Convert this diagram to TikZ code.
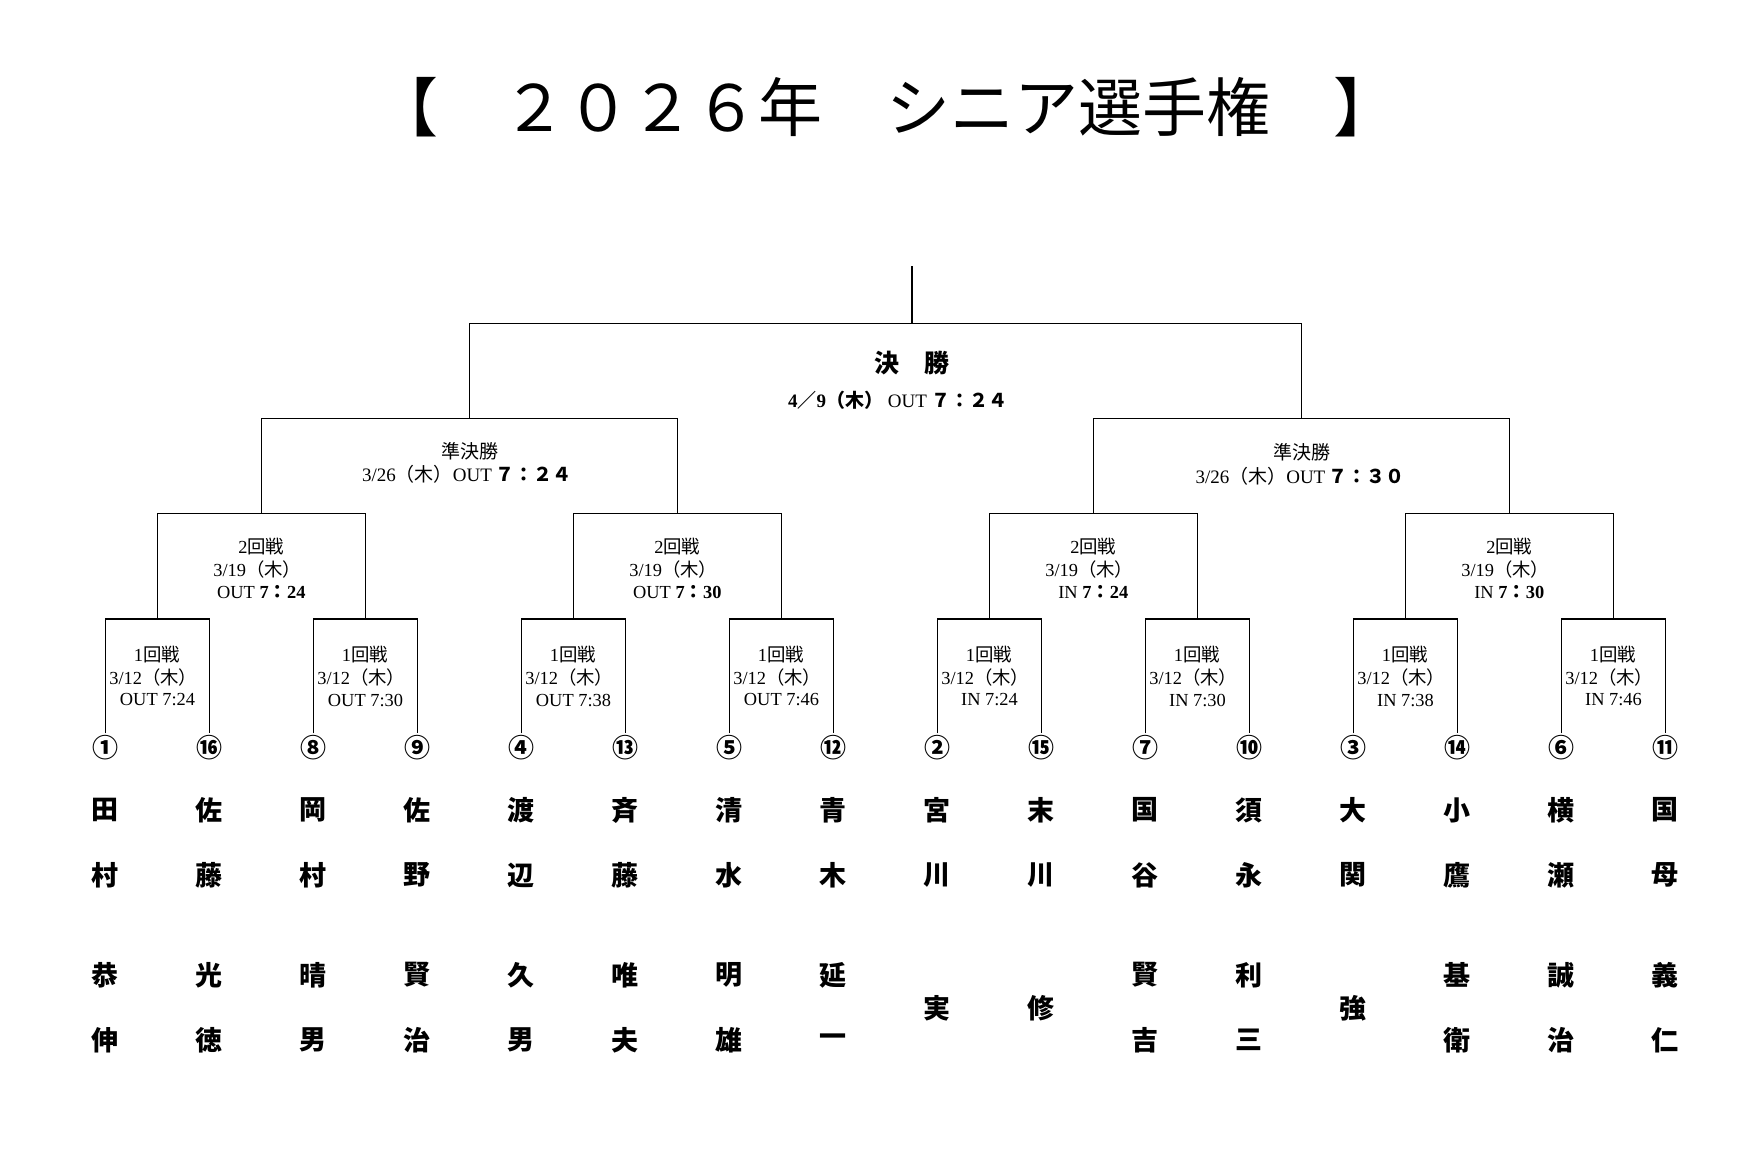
\documentclass[tikz,border=0pt]{standalone}
\usepackage{fontspec}
\setmainfont{Liberation Serif}
\newfontfamily\jp{Noto Sans CJK JP}
\newcommand\jpt[1]{{\jp #1}}
\begin{document}
\begin{tikzpicture}[x=0.5pt,y=-0.5pt,line width=0.8pt,
  ttl/.style={font=\jp\fontsize{32}{32}\selectfont,inner sep=0pt},
  lbl/.style={font=\fontsize{9.2}{9.2}\selectfont,inner sep=0pt},
  semilbl/.style={font=\fontsize{9.5}{9.5}\selectfont,inner sep=0pt},
  finhead/.style={font=\jp\bfseries\fontsize{12.5}{12.5}\selectfont,inner sep=0pt},
  finlbl/.style={font=\bfseries\fontsize{9.5}{9.5}\selectfont,inner sep=0pt},
  cnum/.style={font=\jp\bfseries\fontsize{13}{13}\selectfont,inner sep=0pt},
  pname/.style={font=\jp\bfseries\fontsize{13.5}{13.5}\selectfont,inner sep=0pt},
  bline/.style={line width=0.8pt}]
\useasboundingbox (0,0) rectangle (1752,1153);
\fill[white] (0,0) rectangle (1752,1153);

% title
\node[ttl] (title) at (886,106.7) {【　２０２６年　シニア選手権　】};

% coordinates
\foreach \k in {0,...,15} {\coordinate (L\k) at ({105.3+104*\k},733.3);}
\foreach \j in {0,...,7} {\coordinate (A\j) at ({157.3+208*\j},619);}
\foreach \j in {0,...,3} {\coordinate (B\j) at ({261.3+416*\j},513.3);}
\foreach \j in {0,...,1} {\coordinate (C\j) at ({469.3+832*\j},418.3);}
\coordinate (F) at (912,323.3);
\coordinate (T) at (912,266);

% brackets
\foreach \j in {0,...,7} {
  \pgfmathtruncatemacro\p{2*\j}\pgfmathtruncatemacro\q{2*\j+1}
  \draw[bline] (L\p) |- (A\j) -| (L\q);}
\foreach \j in {0,...,3} {
  \pgfmathtruncatemacro\p{2*\j}\pgfmathtruncatemacro\q{2*\j+1}
  \draw[bline] (A\p) |- (B\j) -| (A\q);}
\draw[bline] (B0) |- (C0) -| (B1);
\draw[bline] (B2) |- (C1) -| (B3);
\draw[bline] (C0) |- (F) -| (C1);
\draw[bline] (F) -- (T);

% final label
\node[finhead] (fin1) at (912,363.3) {決　勝};
\node[finlbl] (fin2) at (898,400.7) {4\jpt{／}9\jpt{（木）} {\mdseries OUT} \jpt{７：２４}};

% semi labels
\node[semilbl] (s1a) at (470,451.7) {\jpt{準決勝}};
\node[semilbl] (s1b) at (466.7,474.3) {3/26\jpt{（木）}OUT\,\jpt{\bfseries ７：２４}};
\node[semilbl] (s2a) at (1301.6,452.6) {\jpt{準決勝}};
\node[semilbl] (s2b) at (1300,476) {3/26\jpt{（木）}OUT\,\jpt{\bfseries ７：３０}};

% round 2 labels
\foreach \j/\io/\tm in {0/OUT/24,1/OUT/30,2/IN/24,3/IN/30} {
  \node[lbl] (r2a\j) at ({261.3+416*\j},546.7) {2\jpt{回戦}};
  \node[lbl] (r2b\j) at ({257.3+416*\j},569.3) {3/19\jpt{（木）}};
  \node[lbl] (r2c\j) at ({261.3+416*\j},591.7) {\io\ \textbf{7}\jpt{\bfseries ：}\textbf{\tm}};
}

% round 1 labels
\foreach \j/\io/\tm in {0/OUT/7:24,1/OUT/7:30,2/OUT/7:38,3/OUT/7:46,4/IN/7:24,5/IN/7:30,6/IN/7:38,7/IN/7:46} {
  \node[lbl] (r1a\j) at ({156.8+208*\j},655) {1\jpt{回戦}};
  \node[lbl] (r1b\j) at ({153.3+208*\j},677.5) {3/12\jpt{（木）}};
  \node[lbl] (r1c\j) at ({157.5+208*\j},700) {\io\ \tm};
}

% seeds and surnames
\foreach \k/\n/\a/\b in {0/①/田/村,1/⑯/佐/藤,2/⑧/岡/村,3/⑨/佐/野,4/④/渡/辺,5/⑬/斉/藤,6/⑤/清/水,7/⑫/青/木,8/②/宮/川,9/⑮/末/川,10/⑦/国/谷,11/⑩/須/永,12/③/大/関,13/⑭/小/鷹,14/⑥/横/瀬,15/⑪/国/母} {
  \node[cnum] (n\k) at ({105.3+104*\k},747.3) {\n};
  \node[pname] (sa\k) at ({105.3+104*\k},810) {\a};
  \node[pname] (sb\k) at ({105.3+104*\k},875) {\b};
}
% given names (two characters)
\foreach \k/\c/\d in {0/恭/伸,1/光/徳,2/晴/男,3/賢/治,4/久/男,5/唯/夫,6/明/雄,7/延/一,10/賢/吉,11/利/三,13/基/衛,14/誠/治,15/義/仁} {
  \node[pname] (ga\k) at ({105.3+104*\k},975) {\c};
  \node[pname] (gb\k) at ({105.3+104*\k},1040) {\d};
}
% given names (one character)
\foreach \k/\c in {8/実,9/修,12/強} {
  \node[pname] (ga\k) at ({105.3+104*\k},1008.3) {\c};
}
\end{tikzpicture}
\end{document}
